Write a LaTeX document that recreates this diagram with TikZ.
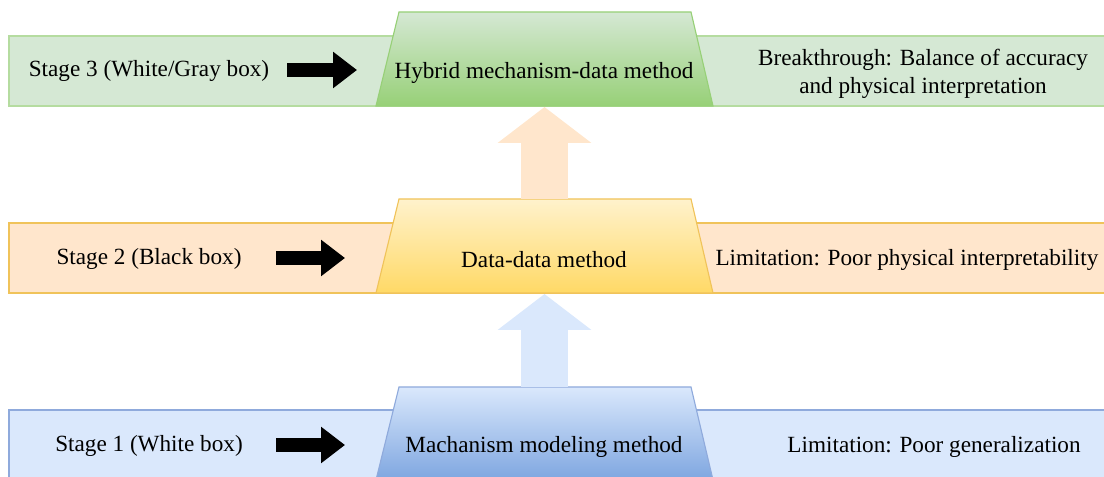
\documentclass[tikz,border=0pt]{standalone}
\usepackage{fontspec}
\setmainfont{Liberation Serif}
\usetikzlibrary{arrows.meta}
\definecolor{gband}{HTML}{D5E8D4}
\definecolor{gline}{HTML}{B5DCA0}
\definecolor{gdark}{HTML}{97D077}
\definecolor{oband}{HTML}{FFE6CC}
\definecolor{oline}{HTML}{F0C35A}
\definecolor{olight}{HTML}{FFF2CC}
\definecolor{odark}{HTML}{FFD966}
\definecolor{bband}{HTML}{DAE8FC}
\definecolor{bline}{HTML}{8FAADC}
\definecolor{bdark}{HTML}{7EA6E0}
\tikzset{txt/.style={font=\fontsize{16.5}{19.5}\selectfont, inner sep=0pt, align=center},
 stagearrow/.style={line width=9.9pt, -{Triangle[length=17pt,width=24.8pt]}},
 uparrow/.style={line width=33.3pt, -{Triangle[length=25.5pt,width=65.2pt]}},
 }

\begin{document}
\begin{tikzpicture}[x=0.025cm, y=-0.025cm, line width=0.8pt]
        \useasboundingbox (0,0) rectangle (1104,477);
        \clip (0,0) rectangle (1104,477);
        \draw [fill=gband, draw=gline] (9,36) rectangle (1110,106);
        \draw [fill=oband, draw=oline] (9,223) rectangle (1110,293);
        \draw [fill=bband, draw=bline] (9,410) rectangle (1110,480);
        \shade [top color=gband, bottom color=gdark, draw=gdark] (376,106) -- (399,12) -- (691,12) -- (713,106) -- cycle;
        \shade [top color=olight, bottom color=odark, draw=oline] (376,293) -- (399,199) -- (691,199) -- (713,293) -- cycle;
        \shade [top color=bband, bottom color=bdark, draw=bline] (376,480) -- (399,387) -- (691,387) -- (713,480) -- cycle;
        \node [txt] (s3label) at (149,71) {Stage 3 (White/Gray box)};
        \node [txt] (s2label) at (149,259) {Stage 2 (Black box)};
        \node [txt] (s1label) at (149,446) {Stage 1 (White box)};
        \node [txt] (s3method) at (544,73) {Hybrid mechanism-data method};
        \node [txt] (s2method) at (544,260) {Data-data method};
        \node [txt] (s1method) at (544,447) {Machanism modeling method};
        \node [txt] (s3note) at (923,74) {Breakthrough: Balance of accuracy\\and physical interpretation};
        \node [txt, anchor=west] (s2note) at (715,260) {Limitation: Poor physical interpretability};
        \node [txt] (s1note) at (934,447) {Limitation: Poor generalization};
        \coordinate (s3top) at (544.5,199);
        \coordinate (s3bot) at (544.5,107);
        \coordinate (s2top) at (544.5,387);
        \coordinate (s2bot) at (544.5,294);
        \draw [uparrow, oband] (s3top) -- (s3bot);
        \draw [uparrow, bband] (s2top) -- (s2bot);
        \draw [stagearrow] (287,70) -- (357,70);
        \draw [stagearrow] (276,258) -- (345,258);
        \draw [stagearrow] (276,445) -- (345,445);
    \end{tikzpicture}
\end{document}
